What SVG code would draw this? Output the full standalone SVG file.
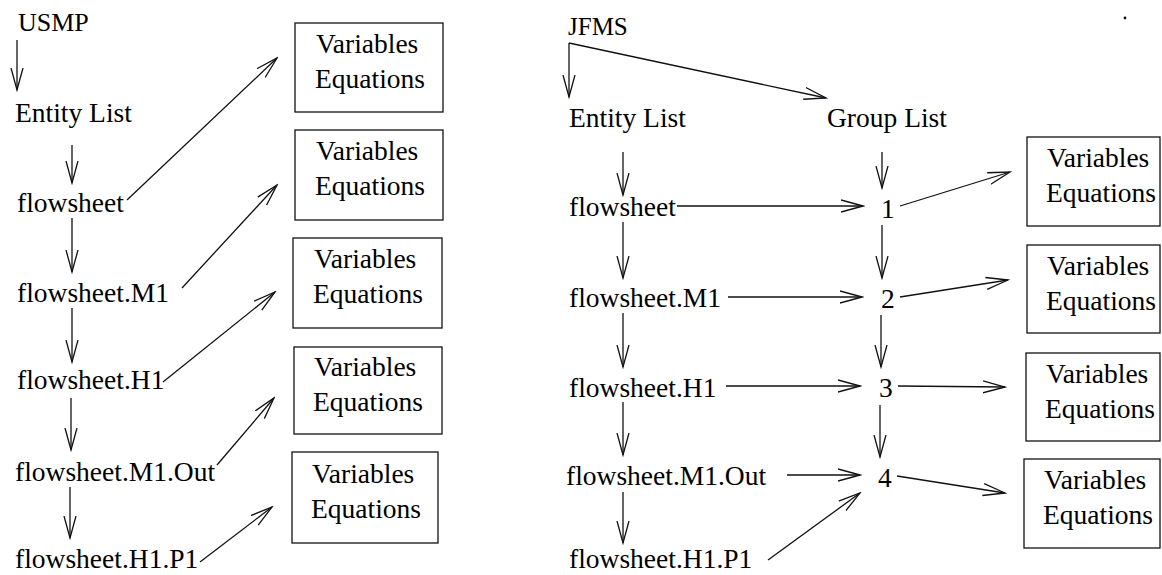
<svg xmlns="http://www.w3.org/2000/svg" width="1162" height="575" viewBox="0 0 1162 575">
<style>
text{font-family:"Liberation Serif","Times New Roman",serif;font-size:27.5px;fill:#000}
.title{font-size:26px}
.box{fill:none;stroke:#111;stroke-width:1.3}
.c{fill:none;stroke:#111;stroke-width:1.3;marker-end:url(#ah)}
</style>
<defs>
<marker id="ah" markerUnits="userSpaceOnUse" viewBox="0 0 24 14" refX="22" refY="7" markerWidth="24" markerHeight="14" orient="auto">
<path d="M0,1 L22,7 L0,13" fill="none" stroke="#111" stroke-width="1.3"/>
</marker>
</defs>
<rect width="1162" height="575" fill="#fff"/>

<!-- Left: USMP -->
<g id="usmp"><text class="title" x="18" y="31">USMP</text></g>
<g id="l-entity"><text x="15" y="122">Entity List</text></g>
<g id="l-fs"><text x="17" y="212">flowsheet</text></g>
<g id="l-m1"><text x="17" y="302">flowsheet.M1</text></g>
<g id="l-h1"><text x="17" y="389">flowsheet.H1</text></g>
<g id="l-m1out"><text x="15" y="481">flowsheet.M1.Out</text></g>
<g id="l-h1p1"><text x="15" y="568">flowsheet.H1.P1</text></g>

<g id="l-box1"><rect class="box" x="295" y="23" width="148" height="89"/><text x="316" y="53">Variables</text><text x="315" y="88">Equations</text></g>
<g id="l-box2"><rect class="box" x="295" y="130" width="148" height="90"/><text x="316" y="160">Variables</text><text x="315" y="195">Equations</text></g>
<g id="l-box3"><rect class="box" x="293" y="238" width="149" height="90"/><text x="314" y="268">Variables</text><text x="313" y="303">Equations</text></g>
<g id="l-box4"><rect class="box" x="294" y="347" width="148" height="87"/><text x="314" y="376">Variables</text><text x="313" y="411">Equations</text></g>
<g id="l-box5"><rect class="box" x="292" y="452" width="146" height="91"/><text x="312" y="483">Variables</text><text x="311" y="518">Equations</text></g>

<!-- Right: JFMS -->
<g id="jfms"><text x="568" y="35" style="font-size:25px">JFMS</text></g>
<g id="r-entity"><text x="569" y="127">Entity List</text></g>
<g id="r-group"><text x="827" y="127">Group List</text></g>
<g id="r-fs"><text x="569" y="216">flowsheet</text></g>
<g id="r-m1"><text x="569" y="307">flowsheet.M1</text></g>
<g id="r-h1"><text x="569" y="397">flowsheet.H1</text></g>
<g id="r-m1out"><text x="566" y="485">flowsheet.M1.Out</text></g>
<g id="r-h1p1"><text x="569" y="568">flowsheet.H1.P1</text></g>
<g id="g1"><text x="881" y="218">1</text></g>
<g id="g2"><text x="881" y="308">2</text></g>
<g id="g3"><text x="879" y="397">3</text></g>
<g id="g4"><text x="878" y="487">4</text></g>

<g id="r-box1"><rect class="box" x="1027" y="137" width="133" height="89"/><text x="1047" y="167">Variables</text><text x="1046" y="202">Equations</text></g>
<g id="r-box2"><rect class="box" x="1027" y="245" width="133" height="88"/><text x="1047" y="275">Variables</text><text x="1046" y="310">Equations</text></g>
<g id="r-box3"><rect class="box" x="1026" y="353" width="134" height="88"/><text x="1046" y="383">Variables</text><text x="1045" y="418">Equations</text></g>
<g id="r-box4"><rect class="box" x="1024" y="459" width="136" height="89"/><text x="1044" y="489">Variables</text><text x="1043" y="524">Equations</text></g>

<circle id="speck" cx="1125" cy="18" r="1.4" fill="#111"/>

<g id="connectors">
<path class="c" d="M17,40 L17,90"/>
<path class="c" d="M72,145 L72,183"/>
<path class="c" d="M72,218 L72,272"/>
<path class="c" d="M72,308 L72,362"/>
<path class="c" d="M71,398 L71,450"/>
<path class="c" d="M70,487 L70,538"/>
<path class="c" d="M127,200 L277,58"/>
<path class="c" d="M182,288 L277,185"/>
<path class="c" d="M163,382 L275,292"/>
<path class="c" d="M217,465 L274,398"/>
<path class="c" d="M200,562 L272,507"/>
<path class="c" d="M569,43 L569,97"/>
<path class="c" d="M569,43 L826,98"/>
<path class="c" d="M623,152 L623,195"/>
<path class="c" d="M623,222 L623,278"/>
<path class="c" d="M623,313 L623,367"/>
<path class="c" d="M623,402 L623,455"/>
<path class="c" d="M623,492 L623,543"/>
<path class="c" d="M882,152 L882,188"/>
<path class="c" d="M882,225 L882,278"/>
<path class="c" d="M881,315 L881,367"/>
<path class="c" d="M880,405 L880,457"/>
<path class="c" d="M677,206 L863,206"/>
<path class="c" d="M728,297 L862,297"/>
<path class="c" d="M726,386 L860,386"/>
<path class="c" d="M787,475 L860,475"/>
<path class="c" d="M768,560 L860,493"/>
<path class="c" d="M900,206 L1010,172"/>
<path class="c" d="M900,297 L1008,280"/>
<path class="c" d="M898,386 L1005,387"/>
<path class="c" d="M897,476 L1005,493"/>
</g>
</svg>
